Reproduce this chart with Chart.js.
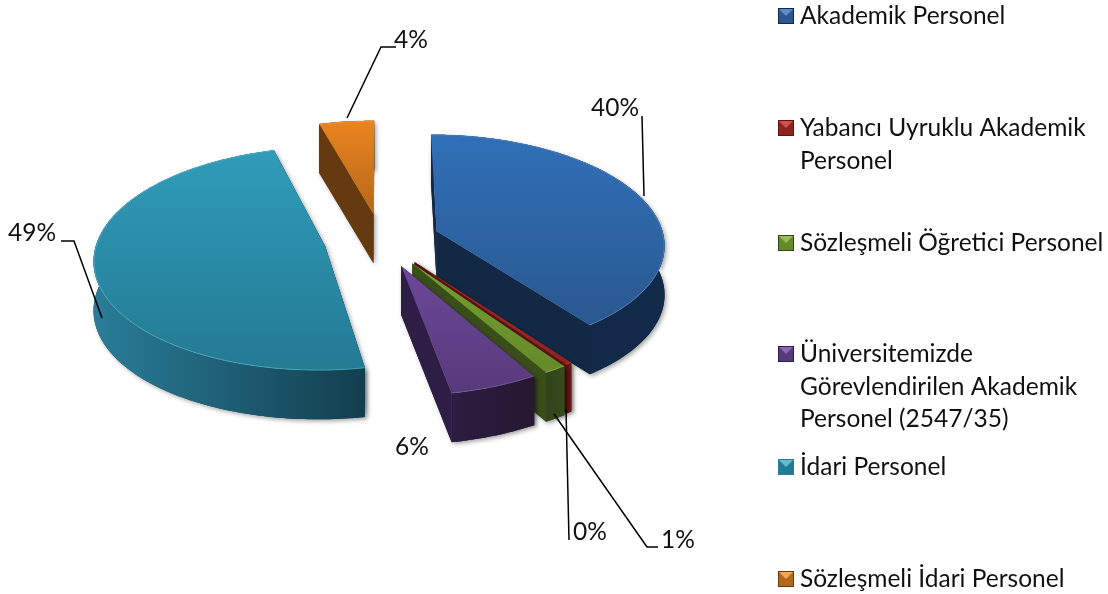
<!DOCTYPE html>
<html>
<head>
<meta charset="utf-8">
<style>
    html, body { margin: 0; padding: 0; background: #fff; }
    #wrap { width: 1108px; height: 594px; }
</style>
<script src="https://cdn.jsdelivr.net/npm/chart.js@4/dist/chart.umd.min.js"></script>
</head>
<body>
<div id="wrap"><canvas id="myChart" width="1108" height="594"></canvas></div>
<script>
    // values
    const categories = ['Akademik Personel', 'Yabancı Uyruklu Akademik Personel', 'Sözleşmeli Öğretici Personel',
        'Üniversitemizde Görevlendirilen Akademik Personel (2547/35)', 'İdari Personel', 'Sözleşmeli İdari Personel'];
    const values = [39.8, 0.4, 1.4, 5.5, 48.5, 4.4];
    const percentLabels = ['40%', '0%', '1%', '6%', '49%', '4%'];
    const explode = [59, 56, 57, 57, 57, 56];

    const legendLines = [['Akademik Personel'], ['Yabancı Uyruklu Akademik', 'Personel'], ['Sözleşmeli Öğretici Personel'],
        ['Üniversitemizde', 'Görevlendirilen Akademik', 'Personel (2547/35)'], ['İdari Personel'], ['Sözleşmeli İdari Personel']];
    const legendY = [16, 128, 243, 354, 467, 579];

    // label centre, then the leader line
    const labelPos = [[615, 108], [590, 532], [678, 540], [412, 447], [32, 233], [411, 40]];
    const leaders = [
        [[642, 116], [644, 196]],
        [[566, 409], [569, 540]],
        [[554, 414], [647, 547], [658, 547]],
        [],
        [[61, 241], [74, 241], [102, 318]],
        [[347, 118], [381, 47], [396, 47]]
    ];

    const topFrom = ['#3070b8', '#a82c28', '#769f30', '#6c4899', '#309cba', '#ea841f'];
    const topTo = ['#2a588f', '#8e2320', '#648a2a', '#573a7b', '#237a93', '#b5681a'];
    const wallLeft = ['#122845', '#5e1212', '#30431a', '#2c1d42', '#2a7d99', '#653a10'];
    const wallRight = ['#122a4a', '#6e1515', '#374c1c', '#25182f', '#123f4e', '#653a10'];
    const sideWall = ['#122845', '#5e1212', '#3a4e1a', '#2e1e45', '#164352', '#653a10'];
    const rimColor = ['#5d8cc8', '#c85450', '#9abb55', '#8a6ab0', '#62bdd4', '#f2a755'];

    const TILT = 109;   // screen height of the plate radius
    const PERSP = 0.11;
    const DEPTH = 49;
    const FONT = '24.5px Lato';

    function paintSlice(ctx, arc, i) {
        const R = arc.outerRadius;
        const s = arc.startAngle, e = arc.endAngle, mid = (s + e) / 2;
        const off = arc.options.offset;
        const ox = Math.cos(mid) * off, oy = Math.sin(mid) * off;

        function P(a, r, d) {
            const u = (Math.sin(a) * r + oy) / R;
            const w = 1 - PERSP * u;
            return [arc.x + (Math.cos(a) * r + ox) / w, arc.y + TILT * u / w + (d || 0)];
        }

        const steps = Math.max(4, Math.ceil((e - s) / 0.02));
        const rim = [];
        for (let n = 0; n <= steps; n++) rim.push(s + (e - s) * n / steps);

        function poly(pts) {
            ctx.beginPath();
            pts.forEach((p, n) => n ? ctx.lineTo(p[0], p[1]) : ctx.moveTo(p[0], p[1]));
            ctx.closePath();
        }
        function wall(a) {
            return [P(a, 0), P(a, R), P(a, R, DEPTH), P(a, 0, DEPTH)];
        }
        const outer = rim.map(a => P(a, R)).concat(rim.slice().reverse().map(a => P(a, R, DEPTH)));
        const face = [P(s, 0)].concat(rim.map(a => P(a, R)));

        const xs = outer.map(p => p[0]), ys = face.map(p => p[1]);
        const minX = Math.min(...xs), maxX = Math.max(...xs);

        // soft shadow under the body
        ctx.save();
        ctx.shadowColor = 'rgba(0,0,0,0.35)';
        ctx.shadowBlur = 4;
        ctx.shadowOffsetX = 2;
        ctx.shadowOffsetY = 2;
        ctx.fillStyle = sideWall[i];
        poly(wall(s)); ctx.fill();
        poly(wall(e)); ctx.fill();
        poly(outer); ctx.fill();
        ctx.restore();

        // repaint the walls clean, the shadows above fall on each other
        ctx.fillStyle = sideWall[i];
        poly(wall(s)); ctx.fill();
        poly(wall(e)); ctx.fill();

        const g = ctx.createLinearGradient(minX, 0, maxX, 0);
        g.addColorStop(0, wallLeft[i]);
        g.addColorStop(1, wallRight[i]);
        ctx.fillStyle = g;
        poly(outer); ctx.fill();

        const t = ctx.createLinearGradient(0, Math.min(...ys), 0, Math.max(...ys));
        t.addColorStop(0, topFrom[i]);
        t.addColorStop(1, topTo[i]);
        ctx.fillStyle = t;
        poly(face); ctx.fill();

        // thin light rim where the top meets the outer wall
        ctx.strokeStyle = rimColor[i];
        ctx.globalAlpha = 0.55;
        ctx.lineWidth = 1;
        ctx.beginPath();
        rim.forEach((a, n) => {
            const p = P(a, R - 0.5);
            n ? ctx.lineTo(p[0], p[1]) : ctx.moveTo(p[0], p[1]);
        });
        ctx.stroke();
        ctx.globalAlpha = 1;
    }

    const tiltedPie = {
        id: 'tiltedPie',
        beforeDatasetDraw(chart, args) {
            const ctx = chart.ctx;
            const arcs = args.meta.data.map((arc, i) => ({ arc, i }));
            // back to front
            arcs.sort((a, b) => Math.sin((a.arc.startAngle + a.arc.endAngle) / 2) - Math.sin((b.arc.startAngle + b.arc.endAngle) / 2));
            arcs.forEach(o => paintSlice(ctx, o.arc, o.i));
            return false;
        },
        afterDraw(chart) {
            const ctx = chart.ctx;
            ctx.save();
            ctx.font = FONT;
            ctx.fillStyle = '#111';
            ctx.textBaseline = 'middle';

            // percent labels and leader lines
            ctx.textAlign = 'center';
            percentLabels.forEach((t, i) => {
                ctx.fillText(t, labelPos[i][0], labelPos[i][1]);
                if (!leaders[i].length) return;
                ctx.strokeStyle = '#000';
                ctx.lineWidth = 1.5;
                ctx.beginPath();
                leaders[i].forEach((p, n) => n ? ctx.lineTo(p[0], p[1]) : ctx.moveTo(p[0], p[1]));
                ctx.stroke();
            });

            // legend
            ctx.textAlign = 'left';
            legendLines.forEach((lines, i) => {
                const y = legendY[i];
                const x0 = 778, y0 = y - 8, sz = 16;
                ctx.fillStyle = topTo[i];
                ctx.fillRect(x0, y0, sz, sz);
                ctx.fillStyle = rimColor[i];
                ctx.beginPath();
                ctx.moveTo(x0, y0); ctx.lineTo(x0 + sz, y0); ctx.lineTo(x0 + sz / 2, y0 + sz / 2);
                ctx.closePath();
                ctx.fill();
                ctx.strokeStyle = wallLeft[i];
                ctx.lineWidth = 1;
                ctx.strokeRect(x0 + 0.5, y0 + 0.5, sz - 1, sz - 1);
                ctx.fillStyle = '#111';
                lines.forEach((t, n) => ctx.fillText(t, 800, y + n * 32.7));
            });
            ctx.restore();
        }
    };

    new Chart(document.querySelector('#myChart').getContext('2d'), {
        type: 'pie',
        data: {
            labels: categories,
            datasets: [{ data: values, offset: explode, borderWidth: 0, backgroundColor: topFrom }]
        },
        options: {
            responsive: false,
            animation: false,
            radius: 228,
            layout: { padding: { right: 346, bottom: 114 } },
            plugins: { legend: { display: false }, tooltip: { enabled: false }, title: { display: false } }
        },
        plugins: [tiltedPie]
    });
</script>
</body>
</html>
